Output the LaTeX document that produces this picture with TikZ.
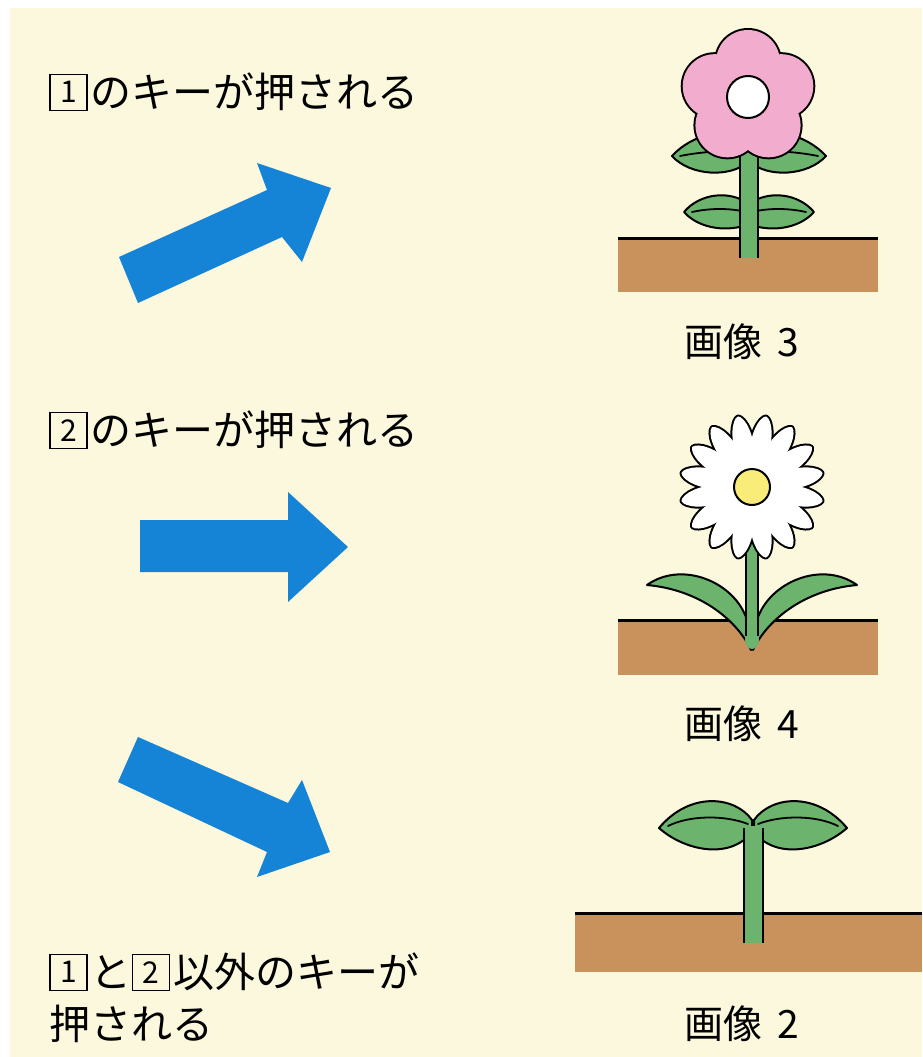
\documentclass[tikz,border=0pt]{standalone}
\usepackage{fontspec}
\newfontfamily\jp{Noto Sans CJK JP}
\definecolor{paper}{RGB}{251,248,221}
\definecolor{arrowblue}{RGB}{22,132,214}
\definecolor{soil}{RGB}{201,146,92}
\definecolor{leafgreen}{RGB}{108,180,110}
\definecolor{petalpink}{RGB}{242,172,206}
\definecolor{daisyyellow}{RGB}{250,236,120}

\tikzset{
  keytext/.style={font=\jp\fontsize{41}{52}\selectfont, inner sep=0pt, anchor=base west, align=left},
  keycap/.style={draw=black, line width=1.5pt, inner sep=0pt, minimum width=37pt, minimum height=36pt, font=\jp\fontsize{30}{30}\selectfont},
  imgcaption/.style={font=\jp\fontsize{39}{39}\selectfont, inner sep=0pt, anchor=base west},
  blockarrow/.style={fill=arrowblue},
  ink/.style={draw=black, line width=2pt, line join=round},
  plant/.style={ink, fill=leafgreen},
  vein/.style={draw=black, line width=1.8pt, line cap=round},
  soilbed/.style={fill=soil},
  soilline/.style={draw=black, line width=3pt},
  petal/.pic={\path[pic actions] (30,-8) .. controls (50,-13) and (70,-7) .. (72,0) .. controls (70,7) and (50,13) .. (30,8) -- cycle;},
}

% boxed key number, as printed on a keycap
\newcommand\keynum[1]{\tikz[baseline={([yshift=4pt]kc.south)}]\node[keycap] (kc) {#1};\hspace{3pt}}

\begin{document}
\begin{tikzpicture}[x=1pt,y=-1pt]
\useasboundingbox (0,0) rectangle (922,1057);
\fill[white] (0,0) rectangle (922,1057);
\fill[paper] (10,8) rectangle (922,1057);

% ---------- texts ----------
\node[keytext] (t1) at (49,107) {\keynum{1}のキーが押される};
\node[keytext] (t2) at (49,445) {\keynum{2}のキーが押される};
\node[keytext] (t3) at (49,1039) {\keynum{1}と\keynum{2}以外のキーが\\押される};

\node[imgcaption] (c3) at (684,356) {画像\hspace{0.4em}3};
\node[imgcaption] (c4) at (684,738) {画像\hspace{0.4em}4};
\node[imgcaption] (c2) at (684,1038) {画像\hspace{0.4em}2};

% ---------- arrows ----------
\fill[blockarrow] (119,257) -- (267,190) -- (257,163) -- (331,188) -- (302,262) -- (282,237) -- (138,303) -- cycle;
\fill[blockarrow] (140,520) -- (288,520) -- (288,492) -- (348,547) -- (288,602) -- (288,572) -- (140,572) -- cycle;
\fill[blockarrow] (138,737) -- (288,803) -- (302,780) -- (330,852) -- (257,877) -- (267,852) -- (118,782) -- cycle;

% ---------- image 3: pink flower ----------
\fill[soilbed] (618,238) rectangle (878,292);
\draw[soilline] (618,238) -- (878,238);
% upper leaves
\path[plant] (748,162) .. controls (730,178) and (690,176) .. (672,156) .. controls (692,134) and (728,126) .. (748,138) -- cycle;
\path[plant] (750,162) .. controls (768,178) and (808,176) .. (826,156) .. controls (806,134) and (770,126) .. (750,138) -- cycle;
\draw[vein] (680,156) .. controls (700,152) and (725,150) .. (745,152);
\draw[vein] (818,156) .. controls (798,152) and (773,150) .. (753,152);
% lower leaves
\path[plant] (749,224) .. controls (730,232) and (700,230) .. (684,212) .. controls (700,193) and (730,190) .. (749,204) -- cycle;
\path[plant] (749,224) .. controls (768,232) and (798,230) .. (814,212) .. controls (798,193) and (768,190) .. (749,204) -- cycle;
\draw[vein] (692,212) .. controls (710,208) and (730,208) .. (746,212);
\draw[vein] (806,212) .. controls (788,208) and (768,208) .. (752,212);
% stem
\fill[leafgreen] (740,150) rectangle (758,258);
\draw[ink] (740,150) -- (740,258) (758,150) -- (758,258);
% blossom
\begin{scope}[shift={(748,97)}]
  \foreach \a in {-90,-18,54,126,198} \draw[line width=4pt] (\a:35) circle[radius=32];
  \foreach \a in {-90,-18,54,126,198} \fill[petalpink] (\a:35) circle[radius=32];
  \fill[petalpink] (0,0) circle[radius=38];
  \filldraw[ink, fill=white] (0,0) circle[radius=21];
\end{scope}

% ---------- image 4: daisy ----------
\fill[soilbed] (618,620) rectangle (878,675);
\draw[soilline] (618,620) -- (878,620);
\path[plant] (751,650) .. controls (738,622) and (702,590) .. (647,585) .. controls (682,560) and (735,582) .. (747,620) -- cycle;
\path[plant] (753,650) .. controls (766,622) and (802,590) .. (857,585) .. controls (822,560) and (769,582) .. (757,620) -- cycle;
\fill[leafgreen] (752,640) ellipse[x radius=7, y radius=9];
\fill[leafgreen] (746,535) rectangle (758,640);
\draw[ink] (746,535) -- (746,636) (758,535) -- (758,636);
\begin{scope}[shift={(752,487)}]
  \foreach \i in {0,...,15} \pic[draw=black, line width=4pt, line join=round, rotate={11.25+22.5*\i}] {petal};
  \foreach \i in {0,...,15} \pic[fill=white, rotate={11.25+22.5*\i}] {petal};
  \fill[white] (0,0) circle[radius=40];
  \filldraw[ink, fill=daisyyellow] (0,0) circle[radius=18];
\end{scope}

% ---------- image 2: sprout ----------
\fill[soilbed] (575,913) rectangle (922,972);
\draw[soilline] (575,913) -- (922,913);
\path[plant] (752,820) .. controls (735,796) and (690,791) .. (659,828) .. controls (685,851) and (730,860) .. (752,832) -- cycle;
\path[plant] (754,820) .. controls (771,796) and (816,791) .. (847,828) .. controls (821,851) and (776,860) .. (754,832) -- cycle;
\draw[vein] (668,826) .. controls (690,815) and (725,815) .. (748,824);
\draw[vein] (838,826) .. controls (816,815) and (781,815) .. (758,824);
\fill[leafgreen] (744,826) rectangle (763,943);
\draw[ink] (744,828) -- (744,943) (763,828) -- (763,943);
\end{tikzpicture}
\end{document}
